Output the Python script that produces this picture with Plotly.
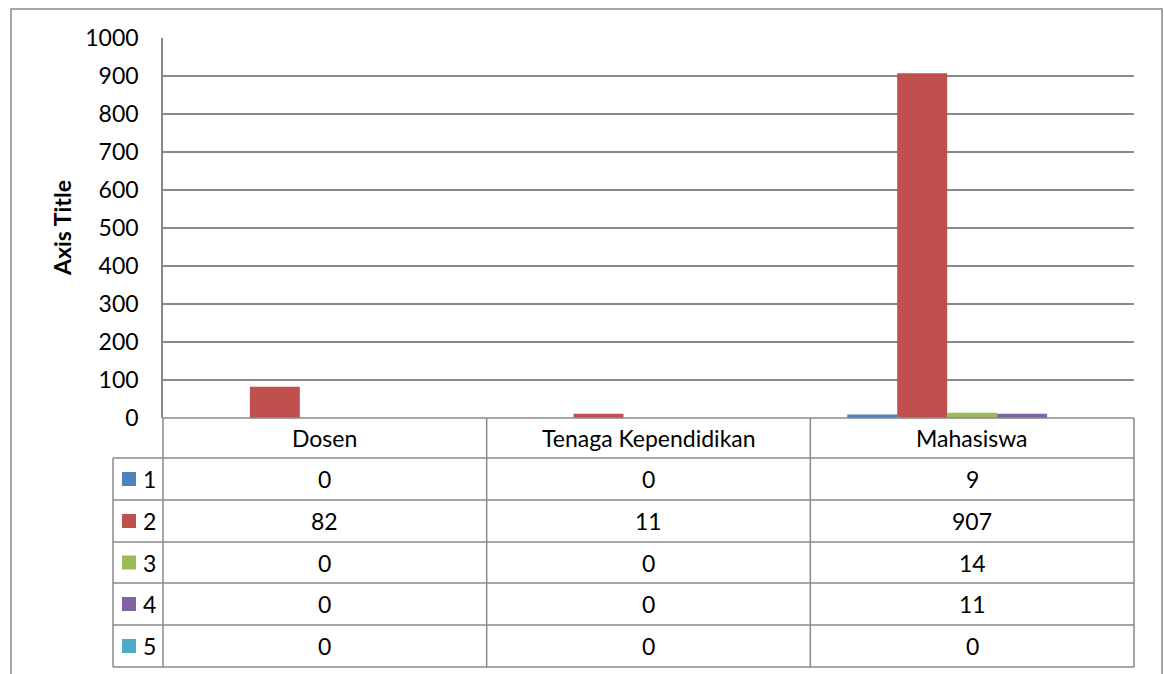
import plotly.graph_objects as go

categories = ['Dosen', 'Tenaga Kependidikan', 'Mahasiswa']
series_names = ['1', '2', '3', '4', '5']
series_values = [
    [0, 0, 9],
    [82, 11, 907],
    [0, 0, 14],
    [0, 0, 11],
    [0, 0, 0],
]
colors = ['#4F81BD', '#C0504D', '#9BBB59', '#8064A2', '#4BACC6']
y_ticks = list(range(0, 1001, 100))

W, H = 1164, 674
L, R, T, B = 163, 1134, 38, 418
grey = '#898989'
font = 'Lato, Carlito, Calibri, sans-serif'
fs = 23


def px(x):
    return (x - L) / (R - L)


def py(y):
    return (B - y) / (B - T)


fig = go.Figure()
for name, vals, col in zip(series_names, series_values, colors):
    fig.add_trace(go.Bar(x=categories, y=vals, name=name,
                         marker=dict(color=col, line=dict(width=0))))

shapes = []
annotations = []
ln = dict(color=grey, width=1.5)

# outer chart border
shapes.append(dict(type='rect', xref='paper', yref='paper',
                   x0=px(11), x1=px(1162), y0=py(700), y1=py(9), line=ln))

# data table lines
row_edges = [458, 500, 542, 583, 625, 667]
shapes.append(dict(type='line', xref='paper', yref='paper', x0=px(L), x1=px(R),
                   y0=py(B), y1=py(B), line=ln))
for yy in row_edges:
    shapes.append(dict(type='line', xref='paper', yref='paper', x0=px(113), x1=px(R),
                       y0=py(yy), y1=py(yy), line=ln))
band = (R - L) / len(categories)
for i in range(len(categories) + 1):
    xx = L + i * band
    shapes.append(dict(type='line', xref='paper', yref='paper', x0=px(xx), x1=px(xx),
                       y0=py(B), y1=py(667), line=ln))
shapes.append(dict(type='line', xref='paper', yref='paper', x0=px(113), x1=px(113),
                   y0=py(458), y1=py(667), line=ln))

txt = dict(size=fs, color='black', family=font)

# header row: categories
for cat in categories:
    annotations.append(dict(x=cat, xref='x', y=py(438), yref='paper', text=cat,
                            xanchor='center', yanchor='middle',
                            showarrow=False, font=txt))

# value rows with legend keys
for r, (name, vals, col) in enumerate(zip(series_names, series_values, colors)):
    yc = (row_edges[r] + row_edges[r + 1]) / 2
    shapes.append(dict(type='rect', xref='paper', yref='paper',
                       x0=px(122), x1=px(136), y0=py(yc + 7), y1=py(yc - 7),
                       fillcolor=col, line=dict(width=0)))
    annotations.append(dict(x=px(141), xref='paper', y=py(yc), yref='paper', text=name,
                            xanchor='left', yanchor='middle', showarrow=False, font=txt))
    for cat, v in zip(categories, vals):
        annotations.append(dict(x=cat, xref='x', y=py(yc), yref='paper', text=str(v),
                                xanchor='center', yanchor='middle',
                                showarrow=False, font=txt))

# axis title
annotations.append(dict(x=px(62), xref='paper', y=py(228), yref='paper', text='<b>Axis Title</b>',
                        xanchor='center', yanchor='middle',
                        textangle=-90, showarrow=False, font=txt))

fig.update_layout(
    width=W, height=H,
    margin=dict(l=L, r=W - R, t=T, b=H - B, pad=0),
    paper_bgcolor='white', plot_bgcolor='white',
    barmode='group', bargap=0.228, bargroupgap=0,
    showlegend=False,
    font=dict(family=font, size=fs, color='black'),
    xaxis=dict(range=[-0.5, 2.5], showticklabels=False, showgrid=False,
               showline=False, zeroline=False, ticks=''),
    yaxis=dict(range=[0, 1000], tickvals=y_ticks, showgrid=True, gridcolor=grey,
               gridwidth=1.5, showline=True, linecolor=grey, linewidth=1.5,
               zeroline=False, ticks='', ticklabelstandoff=18,
               tickfont=txt),
    shapes=shapes,
    annotations=annotations,
)

# drop the browser's default body margin so the figure sits at the page origin
fig.write_html('out.html', config={'displayModeBar': False},
               post_script="document.body.style.margin='0';document.body.style.overflow='hidden';")
